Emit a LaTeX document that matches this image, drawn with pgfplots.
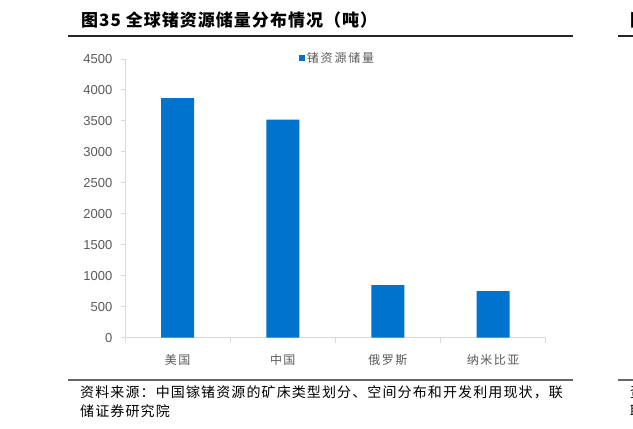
\documentclass[border=0pt]{standalone}
\usepackage{fontspec}
\usepackage{pgfplots}
\pgfplotsset{compat=1.18}
\setmainfont{Liberation Sans}
\newfontfamily\cjk{Noto Sans CJK SC}
\definecolor{barblue}{RGB}{0,115,207}
\definecolor{labgray}{RGB}{89,89,89}
\definecolor{axgray}{RGB}{217,217,217}

\begin{document}
\begin{tikzpicture}
\path[use as bounding box] (0,0) rectangle (633pt,429pt);

% title and rules
\node[anchor=west, inner sep=0pt] at (81pt,409pt)
  {\cjk\bfseries\fontsize{17}{17}\selectfont\addfontfeature{LetterSpace=6}图35 全球锗资源储量分布情况（吨）};
\draw[line width=1.3pt, black!85] (68pt,393pt) -- (573pt,393pt);
\draw[line width=1.3pt, black!85] (618pt,393pt) -- (633pt,393pt);
\node[anchor=west, inner sep=0pt] at (630pt,409pt)
  {\cjk\bfseries\fontsize{17}{17}\selectfont 图};

% footer
\draw[line width=1.5pt, black!60] (68pt,49pt) -- (573pt,49pt);
\draw[line width=1.5pt, black!60] (618pt,49pt) -- (633pt,49pt);
\node[anchor=base west, inner sep=0pt] at (80pt,31.7pt)
  {\cjk\fontsize{14}{14}\selectfont\addfontfeature{LetterSpace=8}资料来源：中国镓锗资源的矿床类型划分、空间分布和开发利用现状，联};
\node[anchor=base west, inner sep=0pt] at (80pt,12.7pt)
  {\cjk\fontsize{14}{14}\selectfont\addfontfeature{LetterSpace=8}储证券研究院};
\node[anchor=base west, inner sep=0pt] at (630pt,31.7pt)
  {\cjk\fontsize{14}{14}\selectfont 资};
\node[anchor=base west, inner sep=0pt] at (630pt,12.7pt)
  {\cjk\fontsize{14}{14}\selectfont 联};

\begin{axis}[
  at={(125pt,91.3pt)}, anchor=south west,
  scale only axis,
  width=420.7pt, height=278.7pt,
  ybar, bar width=33pt,
  xmin=-0.5, xmax=3.5,
  ymin=0, ymax=4500,
  ytick distance=500,
  xtick={0,1,2,3},
  xticklabels={美国,中国,俄罗斯,纳米比亚},
  minor xtick={-0.5,0.5,1.5,2.5,3.5},
  axis x line*=bottom, axis y line*=left,
  axis line style={axgray, line width=1pt},
  tick align=outside,
  major tick length=4pt, minor tick length=5pt,
  major x tick style={draw=none},
  every tick/.style={axgray, line width=1pt},
  minor x tick style={axgray, line width=1pt},
  y axis line style={-}, x axis line style={-},
  /pgf/number format/assume math mode=true,
  /pgf/number format/1000 sep={},
  yticklabel style={font=\fontsize{13}{13}\selectfont, text=labgray, anchor=east, inner sep=0pt, xshift=-8.5pt},
  xticklabel style={font=\cjk\fontsize{12}{12}\selectfont\addfontfeature{LetterSpace=12}, text=labgray, yshift=-9pt},
  legend style={at={(0.413,1.004)}, anchor=west, draw=none, fill=none, inner sep=0pt,
    font=\cjk\fontsize{12}{12}\selectfont\addfontfeature{LetterSpace=15}, text=labgray},
  legend image code/.code={\fill[barblue] (0pt,-3pt) rectangle (6pt,3pt);},
]
\addplot[fill=barblue, draw=none] coordinates {(0,3870) (1,3520) (2,850) (3,750)};
\legend{锗资源储量}
\end{axis}
\end{tikzpicture}
\end{document}
